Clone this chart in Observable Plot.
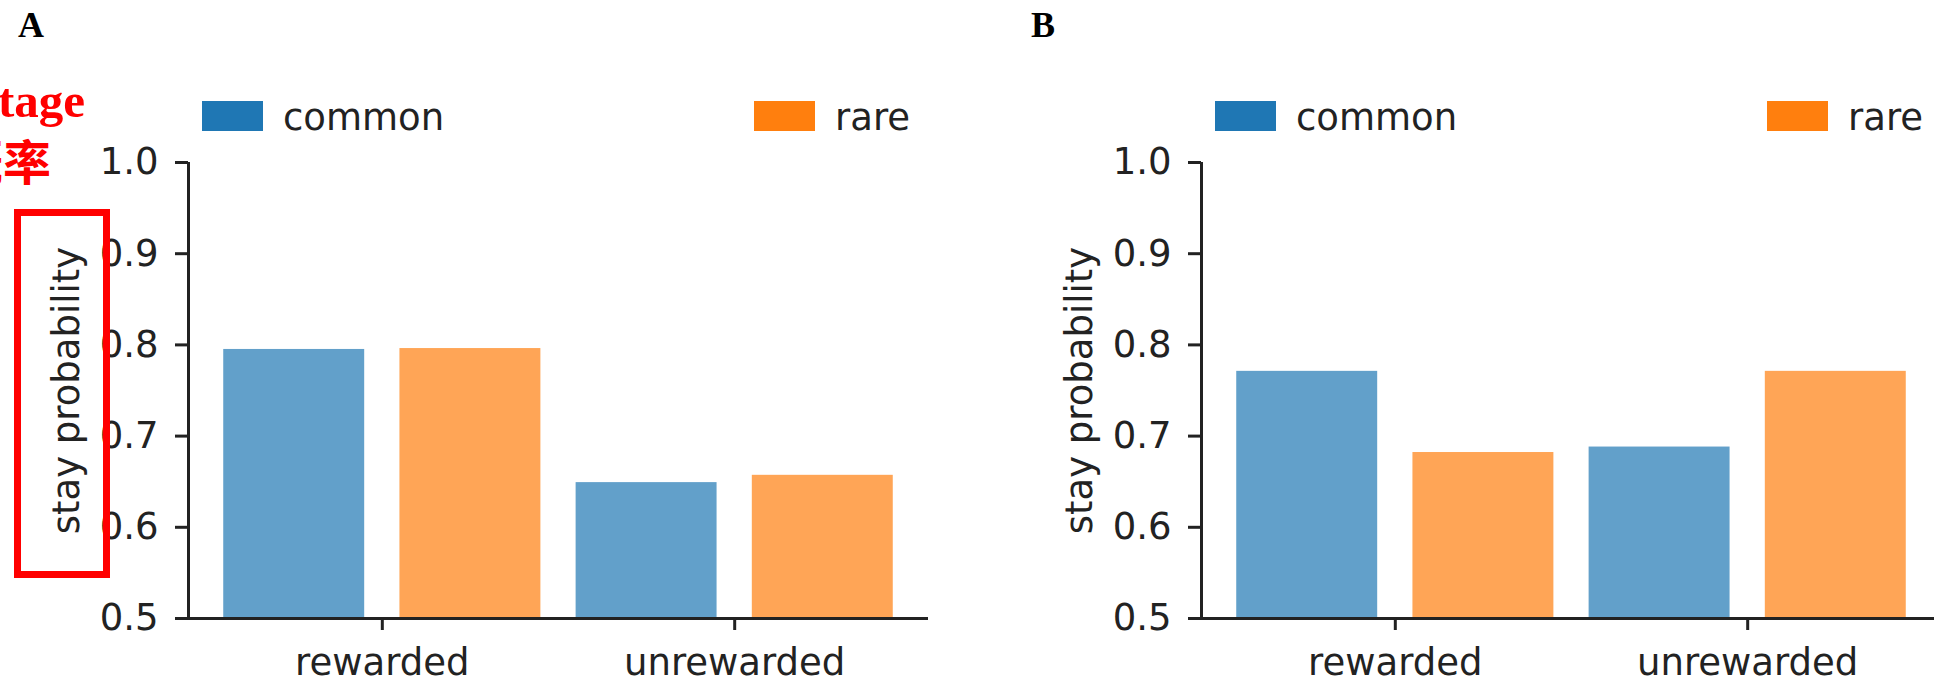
<!DOCTYPE html>
<html>
<head>
<meta charset="utf-8">
<script src="https://cdn.jsdelivr.net/npm/d3@7"></script>
<script src="https://cdn.jsdelivr.net/npm/@observablehq/plot@0.6"></script>
<style>
  html, body { margin: 0; padding: 0; background: #fff; }
  #page { position: relative; width: 1934px; height: 681px; overflow: hidden; background: #fff; font-family: "DejaVu Sans", sans-serif; }
  .abs { position: absolute; white-space: nowrap; }
  .panel { position: absolute; top: 140px; width: 1000px; }
  .panel svg { max-width: none !important; }
  .letter { font-family: "Liberation Serif", serif; font-weight: bold; font-size: 36px; line-height: 36px; color: #000; }
  .legtext { font-size: 37px; line-height: 37px; color: #222; }
  .swatch { width: 61px; height: 30px; }
  .redtxt { color: #ff0000; font-weight: bold; text-align: right; }
</style>
</head>
<body>
<div id="page"></div>
<script>
// ---- data ----
const groups = ["rewarded", "unrewarded"];
const types = ["common", "rare"];
const panelA_common = [0.795, 0.649];
const panelA_rare = [0.796, 0.657];
const panelB_common = [0.771, 0.688];
const panelB_rare = [0.682, 0.771];
const yTicks = [0.5, 0.6, 0.7, 0.8, 0.9, 1.0];
const yLabel = "stay probability";
const panelLabels = ["A", "B"];
const annotationLines = ["Stage", "概率"];

// ---- style ----
const colors = ["#1f77b4", "#ff7f0e"];
const barAlpha = 0.7;
const xDomain = [-0.55, 1.55];
const yDomain = [0.5, 1.0];
const typeOffset = [-0.25, 0.25];
const barWidth = 0.4;
const ink = "#222";

const page = document.getElementById("page");

function buildRows(commonVals, rareVals) {
  const rows = [];
  groups.forEach((g, gi) => {
    [commonVals, rareVals].forEach((vals, ti) => {
      rows.push({group: g, gi, type: types[ti], ti, value: vals[gi]});
    });
  });
  return rows;
}

function makePanel(commonVals, rareVals) {
  const rows = buildRows(commonVals, rareVals);
  return Plot.plot({
    width: 1000,
    height: 541,
    marginLeft: 188,
    marginRight: 72,
    marginTop: 22,
    marginBottom: 63,
    style: {fontFamily: "DejaVu Sans", fontSize: "37px", color: ink, background: "white", overflow: "visible"},
    x: {type: "linear", domain: xDomain},
    y: {domain: yDomain},
    color: {domain: types, range: colors},
    marks: [
      Plot.rect(rows, {
        x1: d => d.gi + typeOffset[d.ti] - barWidth / 2,
        x2: d => d.gi + typeOffset[d.ti] + barWidth / 2,
        y1: yDomain[0],
        y2: "value",
        fill: "type",
        fillOpacity: barAlpha
      }),
      Plot.ruleY([yDomain[0]], {stroke: ink, strokeWidth: 3}),
      Plot.ruleX([xDomain[0]], {y1: yDomain[0], y2: yDomain[1], stroke: ink, strokeWidth: 3}),
      Plot.axisY({ticks: yTicks, tickFormat: d3.format(".1f"), tickSize: 13, tickPadding: 17, strokeWidth: 3, stroke: ink, fill: ink, label: null}),
      Plot.axisX({ticks: groups.map((g, i) => i), tickFormat: i => groups[i], tickSize: 12, tickPadding: 18, strokeWidth: 3, stroke: ink, fill: ink, label: null}),
      Plot.text([yLabel], {text: d => d, frameAnchor: "left", dx: -110, rotate: -90, textAnchor: "middle", lineAnchor: "bottom", fill: ink})
    ]
  });
}

function place(el, left, top) {
  el.style.left = left + "px";
  el.style.top = top + "px";
  page.appendChild(el);
  return el;
}

const panels = [
  {left: 0, common: panelA_common, rare: panelA_rare, label: panelLabels[0]},
  {left: 1013, common: panelB_common, rare: panelB_rare, label: panelLabels[1]}
];

panels.forEach(p => {
  const wrap = document.createElement("div");
  wrap.className = "panel";
  wrap.style.left = p.left + "px";
  wrap.appendChild(makePanel(p.common, p.rare));
  page.appendChild(wrap);

  // panel letter
  const L = document.createElement("div");
  L.className = "abs letter";
  L.textContent = p.label;
  place(L, p.left + 18, 7);

  // legend (two entries, expanded across the axes width)
  const legendX = [[202, 283], [754, 835]];
  types.forEach((t, i) => {
    const sw = document.createElement("div");
    sw.className = "abs swatch";
    sw.style.background = colors[i];
    place(sw, p.left + legendX[i][0], 101);
    const tx = document.createElement("div");
    tx.className = "abs legtext";
    tx.textContent = t;
    place(tx, p.left + legendX[i][1], 99);
  });
});

// red annotation overlay (cropped at left edge)
const r1 = document.createElement("div");
r1.className = "abs redtxt";
r1.style.fontFamily = "Liberation Serif, serif";
r1.style.fontSize = "49px";
r1.style.lineHeight = "49px";
r1.style.width = "300px";
r1.textContent = annotationLines[0];
place(r1, 85 - 300, 76);

const r2 = document.createElement("div");
r2.className = "abs redtxt";
r2.style.fontFamily = "'Noto Sans CJK SC', sans-serif";
r2.style.fontSize = "48px";
r2.style.lineHeight = "48px";
r2.style.width = "300px";
r2.textContent = annotationLines[1];
place(r2, 51 - 300, 135);

const box = document.createElement("div");
box.className = "abs";
box.style.width = "96px";
box.style.height = "369px";
box.style.border = "7px solid #ff0000";
box.style.boxSizing = "border-box";
place(box, 14, 209);
</script>
</body>
</html>
